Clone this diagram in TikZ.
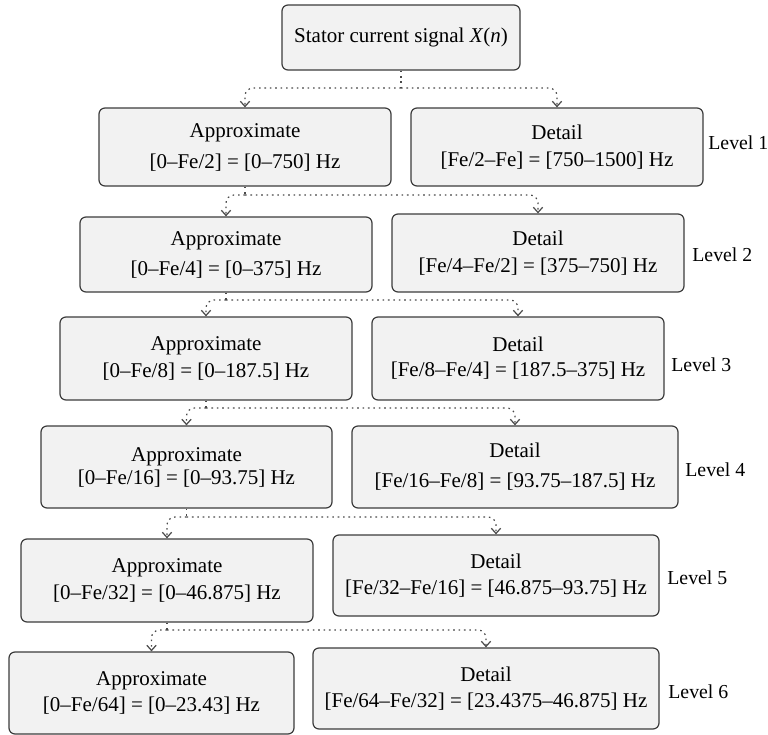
\documentclass[tikz,border=0pt]{standalone}
\usepackage{fontspec}
\setmainfont{Liberation Serif}
\usetikzlibrary{arrows.meta}
\definecolor{boxfill}{HTML}{F2F2F2}
\definecolor{boxline}{HTML}{3C3C3C}
\definecolor{linkcol}{HTML}{4A4A4A}
% bracketed frequency band
\newcommand{\band}[1]{{[}#1{]}}
\begin{document}
\begin{tikzpicture}[x=0.5pt,y=-0.5pt,
  box/.style={draw=boxline, fill=boxfill, line width=0.6pt, rounded corners=3pt,
    align=center, inner sep=0pt, font=\fontsize{10.5}{13.5}\selectfont},
  lvl/.style={anchor=west, inner sep=0pt, font=\fontsize{9.9}{12}\selectfont},
  stub/.style={draw=linkcol, line width=0.6pt, dash pattern=on 0.8pt off 1.9pt},
  link/.style={stub, rounded corners=4pt, -{Straight Barb[length=2.6pt,width=4.6pt]}},
]
\useasboundingbox (0,0) rectangle (768,735);

% signal and decomposition boxes
\node[box, minimum width=119pt, minimum height=32.5pt] (top) at (401,37.5)
  {Stator current signal \textit{X}(\textit{n})};

\node[box, minimum width=146pt, minimum height=39pt] (a1) at (245,147)
  {Approximate\\[2pt] \band{0--Fe/2} = \band{0--750} Hz};
\node[box, minimum width=146pt, minimum height=39pt] (d1) at (557,147)
  {Detail\\[0pt] \band{Fe/2--Fe} = \band{750--1500} Hz};

\node[box, minimum width=146pt, minimum height=37.5pt] (a2) at (226,254.5)
  {Approximate\\[1.5pt] \band{0--Fe/4} = \band{0--375} Hz};
\node[box, minimum width=146pt, minimum height=39pt] (d2) at (538,253)
  {Detail\\[0pt] \band{Fe/4--Fe/2} = \band{375--750} Hz};

\node[box, minimum width=146pt, minimum height=41.5pt] (a3) at (206,358.5)
  {Approximate\\[0pt] \band{0--Fe/8} = \band{0--187.5} Hz};
\node[box, minimum width=146pt, minimum height=41.5pt] (d3) at (518,358.5)
  {Detail\\[-1pt] \band{Fe/8--Fe/4} = \band{187.5--375} Hz};

\node[box, minimum width=145.5pt, minimum height=41pt] (a4) at (186.5,467)
  {Approximate\\[-2pt] \band{0--Fe/16} = \band{0--93.75} Hz};
\node[box, minimum width=163pt, minimum height=41pt] (d4) at (515,467)
  {Detail\\[1.5pt] \band{Fe/16--Fe/8} = \band{93.75--187.5} Hz};

\node[box, minimum width=146pt, minimum height=41.5pt] (a5) at (167,580.5)
  {Approximate\\[0pt] \band{0--Fe/32} = \band{0--46.875} Hz};
\node[box, minimum width=163pt, minimum height=40.5pt] (d5) at (496,575.5)
  {Detail\\[-0.5pt] \band{Fe/32--Fe/16} = \band{46.875--93.75} Hz};

\node[box, minimum width=142.5pt, minimum height=41pt] (a6) at (151.5,693)
  {Approximate\\[-0.5pt] \band{0--Fe/64} = \band{0--23.43} Hz};
\node[box, minimum width=173pt, minimum height=40.5pt] (d6) at (486,688.5)
  {Detail\\[-0.5pt] \band{Fe/64--Fe/32} = \band{23.4375--46.875} Hz};

% level labels
\node[lvl] (l1) at (708,143) {Level 1};
\node[lvl] (l2) at (692,255) {Level 2};
\node[lvl] (l3) at (671,365) {Level 3};
\node[lvl] (l4) at (685,470) {Level 4};
\node[lvl] (l5) at (667,578) {Level 5};
\node[lvl] (l6) at (668,692) {Level 6};

% branching points below each split node
\coordinate (j0) at (401,88);
\coordinate (j1) at (245,195);
\coordinate (j2) at (226,300);
\coordinate (j3) at (206,408);
\coordinate (j4) at (186.5,517);
\coordinate (j5) at (167,630);

% dotted splits
\draw[stub] (top.south) -- (j0);
\draw[link] (j0) -| (a1.north);
\draw[link] (j0) -| (d1.north);

\draw[stub] (a1.south) -- (j1);
\draw[link] (j1) -| (a2.north);
\draw[link] (j1) -| (d2.north);

\draw[stub] (a2.south) -- (j2);
\draw[link] (j2) -| (a3.north);
\draw[link] (j2) -| (d3.north);

\draw[stub] (a3.south) -- (j3);
\draw[link] (j3) -| (a4.north);
\draw[link] (j3) -| (d4.north);

\draw[stub] (a4.south) -- (j4);
\draw[link] (j4) -| (a5.north);
\draw[link] (j4) -| (d5.north);

\draw[stub] (a5.south) -- (j5);
\draw[link] (j5) -| (a6.north);
\draw[link] (j5) -| (d6.north);
\end{tikzpicture}
\end{document}
